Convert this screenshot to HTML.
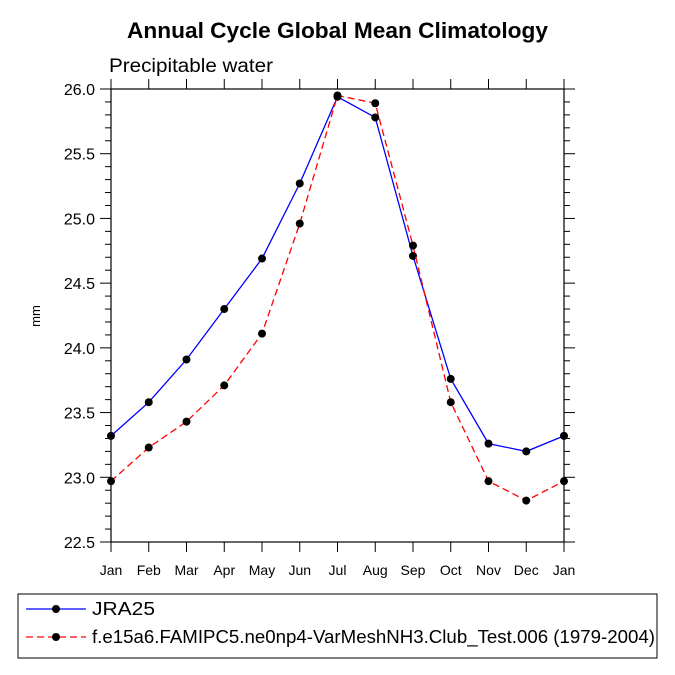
<!DOCTYPE html>
<html><head><meta charset="utf-8"><style>body{margin:0;background:#fff}svg{display:block;font-family:"Liberation Sans",sans-serif}</style></head>
<body>
<svg id="c" width="675" height="675" viewBox="0 0 675 675">
<text x="127" y="38" font-size="22" font-weight="bold" textLength="421" lengthAdjust="spacingAndGlyphs">Annual Cycle Global Mean Climatology</text>
<text x="109" y="72" font-size="19" textLength="164" lengthAdjust="spacingAndGlyphs">Precipitable water</text>
<text x="40" y="316" font-size="13" text-anchor="middle" transform="rotate(-90 40 316)">mm</text>
<g id="axes"></g>
<g id="series"></g>
<rect x="18" y="594" width="639" height="64" fill="none" stroke="#000" stroke-width="1"/>
<g>
<line x1="26" y1="609" x2="86" y2="609" stroke="#00f" stroke-width="1.2"/><circle cx="56" cy="609" r="4" fill="#000"/>
<text x="92" y="615" font-size="18" textLength="63" lengthAdjust="spacingAndGlyphs">JRA25</text></g>
<g>
<line x1="26" y1="637" x2="86" y2="637" stroke="#f00" stroke-width="1.2" stroke-dasharray="7,4"/><circle cx="56" cy="637" r="4" fill="#000"/>
<text x="92" y="643" font-size="18" textLength="563" lengthAdjust="spacingAndGlyphs">f.e15a6.FAMIPC5.ne0np4-VarMeshNH3.Club_Test.006 (1979-2004)</text></g>
</svg>
<script>
const months=["Jan","Feb","Mar","Apr","May","Jun","Jul","Aug","Sep","Oct","Nov","Dec","Jan"];
const yTicks=["22.5","23.0","23.5","24.0","24.5","25.0","25.5","26.0"];
const jra25=[23.32,23.58,23.91,24.30,24.69,25.27,25.94,25.78,24.71,23.76,23.26,23.20,23.32];
const model=[22.97,23.23,23.43,23.71,24.11,24.96,25.95,25.89,24.79,23.58,22.97,22.82,22.97];
const L=111,R=564,T=89,B=542,ymin=22.5,ymax=26.0;
const xs=i=>L+(R-L)*i/(months.length-1);
const ys=v=>B-(v-ymin)/(ymax-ymin)*(B-T);
const NS="http://www.w3.org/2000/svg";
function mk(t,a,p){const e=document.createElementNS(NS,t);for(const k in a)e.setAttribute(k,a[k]);p.appendChild(e);return e;}
const ax=document.getElementById('axes');
const fr=mk('rect',{x:L,y:T,width:R-L,height:B-T,fill:'none',stroke:'#000','stroke-width':1.2},ax);


months.forEach((m,i)=>{const x=xs(i);
mk('line',{x1:x,y1:B,x2:x,y2:B+10,stroke:'#000'},ax);
mk('line',{x1:x,y1:T,x2:x,y2:T-10,stroke:'#000'},ax);
const t=mk('text',{x:x,y:B+33,'text-anchor':'middle','font-size':14},ax);t.textContent=m;

});
for(let k=0;k<=35;k++){const v=ymin+k*0.1,y=ys(v),maj=k%5===0,len=maj?11:6;
mk('line',{x1:L,y1:y,x2:L-len,y2:y,stroke:'#000'},ax);
mk('line',{x1:R,y1:y,x2:R+len,y2:y,stroke:'#000'},ax);}
yTicks.forEach(s=>{const t=mk('text',{x:L-16,y:ys(parseFloat(s))+6,'text-anchor':'end','font-size':16},ax);t.textContent=s;

});
const sg=document.getElementById('series');
function draw(d,col,dash,name){const p=mk('polyline',{points:d.map((v,i)=>xs(i)+','+ys(v)).join(' '),fill:'none',stroke:col,'stroke-width':1.3,'stroke-dasharray':dash},sg);


d.forEach((v,i)=>{const c=mk('circle',{cx:xs(i),cy:ys(v),r:4,fill:'#000'},sg);

});}
draw(jra25,'#00f','none','jra25');
draw(model,'#f00','7,4','model');
</script>
</body></html>
